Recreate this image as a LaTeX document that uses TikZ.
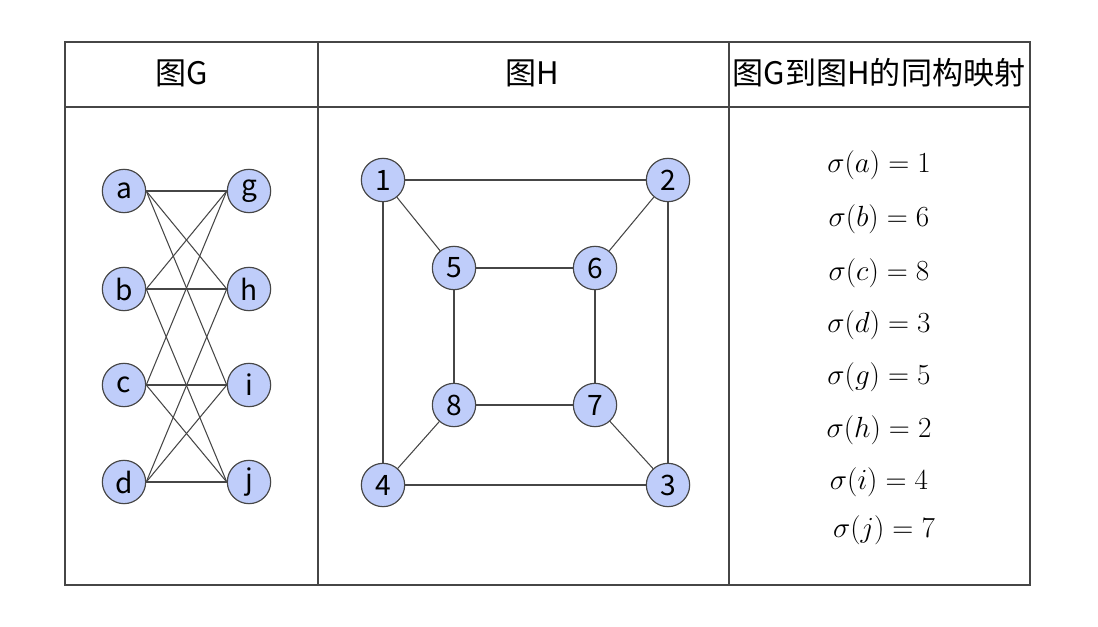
\documentclass[tikz,border=0pt]{standalone}
\usepackage{fontspec}
\newfontfamily\cjk{Noto Sans CJK SC}
\definecolor{nodefill}{RGB}{191,205,250}
\definecolor{edgecol}{RGB}{70,70,70}
\begin{document}
\begin{tikzpicture}[x=0.03cm,y=-0.03cm,
  vert/.style={circle,draw=edgecol,line width=1pt,fill=nodefill,minimum size=1.3cm,inner sep=0pt,font=\cjk\fontsize{24}{26}\selectfont},
  edge/.style={draw=edgecol,line width=0.9pt},
  grid/.style={draw=edgecol,line width=1.2pt},
  head/.style={font=\cjk\fontsize{26.5}{28}\selectfont},
  map/.style={font=\fontsize{27}{30}\selectfont}]
\useasboundingbox (0,0) rectangle (1098,627);
\draw[grid] (65,42) rectangle (1030,585);
\draw[grid] (65,107) -- (1030,107);
\draw[grid] (318,42) -- (318,585);
\draw[grid] (729,42) -- (729,585);
\node[head] (hG) at (182,73) {图G};
\node[head] (hH) at (532,73) {图H};
\node[head] (hM) at (879,73) {图G到图H的同构映射};
% graph G
\node[vert] (a) at (124,191) {a};
\node[vert] (b) at (124,289) {b};
\node[vert] (c) at (124,385) {c};
\node[vert] (d) at (124,482) {d};
\node[vert] (g) at (249,191) {g};
\node[vert] (h) at (249,289) {h};
\node[vert] (i) at (249,385) {i};
\node[vert] (j) at (249,482) {j};
\foreach \u/\v in {a/g,a/h,a/i,b/g,b/h,b/j,c/g,c/i,c/j,d/h,d/i,d/j}
  \draw[edge] (\u.east) -- (\v.west);
% graph H
\node[vert] (n1) at (383,180) {1};
\node[vert] (n2) at (668,180) {2};
\node[vert] (n5) at (454,268) {5};
\node[vert] (n6) at (595,268) {6};
\node[vert] (n8) at (454,405) {8};
\node[vert] (n7) at (595,405) {7};
\node[vert] (n4) at (383,485) {4};
\node[vert] (n3) at (668,485) {3};
\foreach \u/\v in {n1/n2,n1/n5,n1/n4,n2/n6,n2/n3,n5/n6,n5/n8,n6/n7,n8/n7,n8/n4,n7/n3,n4/n3}
  \draw[edge] (\u) -- (\v);
% mapping
\node[map] (m1) at (879,165) {$\sigma(a)=1$};
\node[map] (m2) at (879,219) {$\sigma(b)=6$};
\node[map] (m3) at (879,273) {$\sigma(c)=8$};
\node[map] (m4) at (879,325) {$\sigma(d)=3$};
\node[map] (m5) at (879,377) {$\sigma(g)=5$};
\node[map] (m6) at (879,430) {$\sigma(h)=2$};
\node[map] (m7) at (879,482) {$\sigma(i)=4$};
\node[map] (m8) at (884,530) {$\sigma(j)=7$};
\end{tikzpicture}
\end{document}
